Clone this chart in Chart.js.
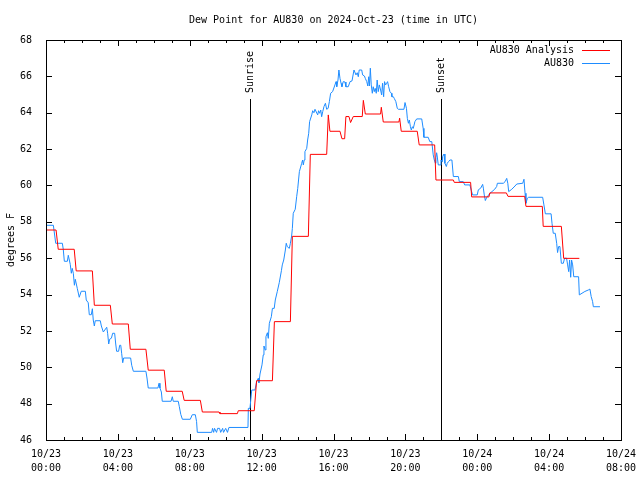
<!DOCTYPE html>
<html>
<head>
<meta charset="utf-8">
<script src="https://cdn.jsdelivr.net/npm/chart.js@4/dist/chart.umd.min.js"></script>
<style>
  html, body { margin: 0; padding: 0; background: #fff; }
  canvas { display: block; }
</style>
</head>
<body>
<canvas id="dewpt-chart" width="640" height="480"></canvas>
<script>
// hours since 10/23 00:00 UTC
const analysisHours = [0, 0.56, 0.68, 1.57, 1.68, 2.58, 2.69, 3.58, 3.69, 4.58, 4.69, 5.56, 5.69, 6.58, 6.69, 7.58,
  7.69, 8.59, 8.7, 9.63, 9.68, 10.65, 10.7, 11.59, 11.72, 12.6, 12.71, 13.6, 13.71, 14.6, 14.71, 15.62, 15.71, 15.8,
  16.36, 16.47, 16.62, 16.69, 16.86, 16.95, 17.1, 17.6, 17.66, 17.77, 18.62, 18.66, 18.77, 19.64, 19.68, 19.77,
  20.66, 20.77, 21.63, 21.7, 22.67, 22.72, 23.63, 23.69, 24.65, 24.7, 25.62, 25.71, 26.64, 26.71, 27.62, 27.67,
  28.68, 28.81, 29.68];
const analysisDewpt = [57.55, 57.55, 56.49, 56.49, 55.3, 55.3, 53.41, 53.41, 52.38, 52.38, 50.99, 50.99, 49.84, 49.84, 48.68, 48.68,
  48.18, 48.18, 47.54, 47.54, 47.45, 47.45, 47.61, 47.61, 49.26, 49.26, 52.51, 52.51, 57.2, 57.2, 61.71, 61.71, 63.88, 62.98,
  62.98, 62.57, 62.57, 63.79, 63.79, 63.46, 63.79, 63.79, 64.68, 63.93, 63.93, 64.3, 63.49, 63.49, 63.7, 62.98,
  62.98, 62.23, 62.23, 60.3, 60.3, 60.17, 60.17, 59.37, 59.37, 59.59, 59.59, 59.4, 59.4, 58.85, 58.85, 57.75,
  57.75, 55.99, 55.99];

const obsHours = [0, 0.41, 0.54, 0.91, 0.96, 1.02, 1.19, 1.24, 1.35, 1.41, 1.46, 1.52, 1.58, 1.63, 1.74, 1.85, 1.96,
  2.19, 2.24, 2.35, 2.41, 2.52, 2.58, 2.63, 2.69, 2.74, 3.02, 3.08, 3.19, 3.38, 3.43, 3.49, 3.54, 3.64, 3.71, 3.82,
  3.88, 3.93, 4.04, 4.1, 4.16, 4.21, 4.27, 4.32, 4.71, 4.77, 4.86, 5.56, 5.62, 5.69, 6.23, 6.29, 6.34, 6.42, 6.47,
  6.96, 7.03, 7.08, 7.36, 7.42, 7.5, 7.59, 8.03, 8.14, 8.31, 8.38, 8.42, 9.22, 9.27, 9.33, 9.38, 9.49, 9.55, 9.66,
  9.72, 9.83, 9.88, 10.0, 10.1, 10.18, 11.24, 11.26, 11.35, 11.45, 11.63, 11.72, 11.81, 11.85, 11.91, 12.02, 12.09,
  12.13, 12.2, 12.24, 12.32, 12.37, 12.43, 12.54, 12.6, 12.7, 12.76, 12.87, 12.98, 13.1, 13.15, 13.23, 13.32, 13.37,
  13.43, 13.54, 13.6, 13.67, 13.71, 13.76, 13.87, 13.95, 14.01, 14.1, 14.23, 14.28, 14.32, 14.37, 14.41, 14.51,
  14.56, 14.62, 14.67, 14.79, 14.84, 14.91, 14.97, 15.12, 15.17, 15.23, 15.29, 15.34, 15.4, 15.47, 15.55, 15.62,
  15.7, 15.77, 15.84, 15.95, 16.08, 16.14, 16.18, 16.25, 16.3, 16.36, 16.42, 16.47, 16.54, 16.64, 16.69, 16.82,
  16.92, 17.03, 17.14, 17.25, 17.32, 17.38, 17.43, 17.57, 17.62, 17.72, 17.77, 17.85, 17.91, 17.96, 18.0, 18.05,
  18.1, 18.16, 18.21, 18.27, 18.32, 18.38, 18.43, 18.49, 18.55, 18.62, 18.68, 18.73, 18.79, 18.84, 18.9, 18.96,
  19.01, 19.07, 19.14, 19.22, 19.25, 19.33, 19.38, 19.47, 19.55, 19.61, 19.92, 19.98, 20.06, 20.11, 20.17, 20.22,
  20.28, 20.33, 20.39, 20.44, 20.53, 20.63, 20.91, 20.99, 21.03, 21.27, 21.36, 21.47, 21.55, 21.61, 21.67, 21.7,
  21.74, 21.77, 21.83, 21.93, 21.98, 22.04, 22.07, 22.15, 22.2, 22.28, 22.33, 22.4, 22.48, 22.59, 22.67, 22.95,
  23.0, 23.22, 23.3, 23.59, 23.67, 23.74, 24.0, 24.06, 24.19, 24.3, 24.34, 24.39, 24.45, 24.53, 24.71, 24.97, 25.08,
  25.12, 25.45, 25.55, 25.64, 25.7, 25.75, 25.92, 26.1, 26.2, 26.53, 26.6, 26.66, 26.71, 26.79, 26.86, 27.64, 27.71,
  27.79, 28.11, 28.16, 28.23, 28.34, 28.42, 28.47, 28.53, 28.6, 28.68, 28.79, 28.86, 28.97, 29.03, 29.09, 29.14,
  29.2, 29.25, 29.31, 29.37, 29.64, 29.68, 29.99, 30.18, 30.27, 30.34, 30.42, 30.46, 30.83];
const obsDewpt = [57.81, 57.81, 56.82, 56.82, 56.49, 55.83, 55.83, 56.16, 55.66, 55.17, 55.44, 55.17, 54.51, 54.84, 54.34, 53.85, 54.18,
  54.18, 53.7, 53.55, 52.89, 52.89, 53.22, 52.6, 52.27, 52.56, 52.56, 52.27, 51.94, 52.2, 51.87, 51.28, 51.54, 51.6, 51.87, 51.87,
  51.28, 50.88, 50.88, 51.21, 51.21, 50.77, 50.25, 50.51, 50.51, 50.11, 49.78, 49.78, 49.41, 48.86, 48.86, 49.12, 48.86, 48.64, 48.13,
  48.13, 48.38, 48.13, 48.13, 47.83, 47.41, 47.14, 47.14, 47.39, 47.39, 47.01, 46.42, 46.42, 46.64, 46.42, 46.64, 46.42, 46.64, 46.64,
  46.42, 46.64, 46.42, 46.64, 46.42, 46.69, 46.69, 47.74, 47.74, 48.75, 48.75, 49.21, 49.39, 49.15, 49.63, 50.13, 50.68,
  51.17, 50.95, 51.68, 51.9, 51.59, 52.42, 52.78, 53.24, 53.24, 53.7, 54.16, 54.65, 55.31, 55.63, 55.9, 56.45, 56.82,
  56.63, 56.54, 56.82, 57.22, 57.64, 58.47, 58.69, 59.38, 59.84, 60.76, 61.22, 61.4, 61.13, 61.4, 61.86, 62.04,
  62.5, 62.87, 63.51, 63.88, 64.11, 64.0, 64.19, 63.88, 64.11, 63.97, 64.15, 63.78, 64.06, 64.34, 64.52, 64.19,
  64.24, 64.61, 65.07, 65.16, 65.53, 65.71, 65.43, 65.8, 66.35, 65.89, 65.62, 65.43, 65.71, 65.69, 65.43, 65.43,
  65.71, 65.75, 66.35, 66.08, 66.2, 65.98, 66.35, 66.35, 66.08, 66.02, 65.89, 65.71, 65.47, 65.98, 65.47, 66.45,
  65.53, 65.07, 65.43, 65.16, 65.34, 65.07, 65.8, 65.16, 65.53, 65.25, 64.98, 65.62, 64.88, 65.71, 65.53, 65.62,
  65.71, 65.43, 65.16, 65.07, 64.88, 64.88, 64.79, 64.61, 64.24, 64.19, 64.19, 64.56, 64.24, 63.69, 63.42, 63.6,
  63.23, 63.05, 63.23, 63.14, 63.51, 63.66, 63.66, 63.14, 62.65, 62.65, 62.41, 62.41, 61.68, 61.4, 61.22, 61.53,
  61.8, 61.62, 61.13, 61.13, 61.4, 61.31, 61.59, 61.73, 61.22, 61.04, 61.22, 61.31, 61.4, 61.4, 60.49, 60.49,
  60.21, 60.21, 60.03, 60.03, 59.72, 59.48, 59.48, 59.76, 59.85, 60.06, 59.85, 59.48, 59.17, 59.35, 59.57, 59.79, 59.94,
  60.12, 60.12, 60.21, 60.39, 60.12, 59.66, 59.79, 59.97, 60.08, 60.12, 60.34, 59.57, 59.02, 59.3, 59.35, 59.35, 58.93,
  58.44, 58.44, 57.92, 57.37, 57.37, 56.82, 56.31, 56.64, 56.64, 55.72, 55.72, 56.0, 56.0, 55.63, 55.26, 55.9,
  54.95, 55.9, 55.63, 54.98, 54.98, 53.98, 54.17, 54.25, 54.3, 53.89, 53.61, 53.33, 53.33];

const seriesNames = ['AU830 Analysis', 'AU830'];
const seriesColors = ['#ff0000', '#1e8cff'];
const sunEvents = ['Sunrise', 'Sunset'];
const sunHours = [11.35, 21.98];
const startDay = 23;

const monoFont = 'DejaVu Sans Mono';

function toPoints(xs, ys) {
    return xs.map((x, i) => ({ x: x, y: ys[i] }));
}

function pad2(n) {
    return (n < 10 ? '0' : '') + n;
}

// frame, inward ticks, title, legend, sun lines
const gnuplotLook = {
    id: 'gnuplotLook',
    beforeDatasetsDraw(chart) {
        const ctx = chart.ctx;
        const area = chart.chartArea;
        const xs = chart.scales.x;
        ctx.save();
        ctx.strokeStyle = '#000';
        ctx.lineWidth = 1;
        ctx.fillStyle = '#000';
        ctx.font = '10px "' + monoFont + '"';
        sunEvents.forEach((name, i) => {
            const px = Math.round(xs.getPixelForValue(sunHours[i])) + 0.5;
            ctx.beginPath();
            ctx.moveTo(px, 99);
            ctx.lineTo(px, area.bottom);
            ctx.stroke();
            ctx.save();
            ctx.translate(px, 93);
            ctx.rotate(-Math.PI / 2);
            ctx.textAlign = 'left';
            ctx.textBaseline = 'middle';
            ctx.fillText(name, 0, 0);
            ctx.restore();
        });
        ctx.restore();
    },
    afterDraw(chart) {
        const ctx = chart.ctx;
        const area = chart.chartArea;
        const xs = chart.scales.x;
        const ys = chart.scales.y;
        ctx.save();
        ctx.strokeStyle = '#000';
        ctx.lineWidth = 1;
        ctx.strokeRect(Math.round(area.left) + 0.5, Math.round(area.top) + 0.5,
            Math.round(area.right - area.left), Math.round(area.bottom - area.top));

        ctx.beginPath();
        for (let h = xs.min; h <= xs.max; h++) {
            const px = Math.round(xs.getPixelForValue(h)) + 0.5;
            const len = h % 4 === 0 ? 6 : 3;
            ctx.moveTo(px, area.bottom);
            ctx.lineTo(px, area.bottom - len);
            ctx.moveTo(px, area.top);
            ctx.lineTo(px, area.top + len);
        }
        for (let v = ys.min; v <= ys.max; v += 2) {
            const py = Math.round(ys.getPixelForValue(v)) + 0.5;
            ctx.moveTo(area.left, py);
            ctx.lineTo(area.left + 6, py);
            ctx.moveTo(area.right, py);
            ctx.lineTo(area.right - 6, py);
        }
        ctx.stroke();

        ctx.fillStyle = '#000';
        ctx.font = '10px "' + monoFont + '"';
        ctx.textBaseline = 'middle';
        ctx.textAlign = 'center';
        ctx.fillText('Dew Point for AU830 on 2024-Oct-23 (time in UTC)', (area.left + area.right) / 2, 20);

        ctx.save();
        ctx.translate(11, (area.top + area.bottom) / 2);
        ctx.rotate(-Math.PI / 2);
        ctx.fillText('degrees F', 0, 0);
        ctx.restore();

        // key
        ctx.textAlign = 'right';
        seriesNames.forEach((name, i) => {
            const y = 50 + i * 13;
            ctx.fillStyle = '#000';
            ctx.fillText(name, 574, y);
            ctx.strokeStyle = seriesColors[i];
            ctx.beginPath();
            ctx.moveTo(582, y + 0.5);
            ctx.lineTo(610, y + 0.5);
            ctx.stroke();
        });
        ctx.restore();
    }
};

const ctx = document.getElementById('dewpt-chart').getContext('2d');
const dewChart = new Chart(ctx, {
    type: 'line',
    data: {
        datasets: [{
            label: seriesNames[0],
            data: toPoints(analysisHours, analysisDewpt),
            borderColor: seriesColors[0],
            borderWidth: 1,
            pointRadius: 0,
            tension: 0,
            fill: false
        }, {
            label: seriesNames[1],
            data: toPoints(obsHours, obsDewpt),
            borderColor: seriesColors[1],
            borderWidth: 1,
            pointRadius: 0,
            tension: 0,
            fill: false
        }]
    },
    options: {
        responsive: false,
        animation: false,
        devicePixelRatio: 1,
        layout: { padding: { top: 40, right: 19, left: 0, bottom: 0 } },
        plugins: {
            legend: { display: false },
            title: { display: false },
            tooltip: { enabled: false }
        },
        scales: {
            x: {
                type: 'linear',
                min: 0,
                max: 32,
                grid: { display: false },
                border: { display: false },
                afterFit: s => { s.height = 40; },
                ticks: {
                    stepSize: 4,
                    autoSkip: false,
                    maxRotation: 0,
                    padding: -1,
                    color: '#000',
                    font: { family: monoFont, size: 10, lineHeight: 1.4 },
                    callback: v => {
                        const day = startDay + Math.floor(v / 24);
                        return ['10/' + day, pad2(v % 24) + ':00'];
                    }
                }
            },
            y: {
                min: 46,
                max: 68,
                grid: { display: false },
                border: { display: false },
                afterFit: s => { s.width = 46; },
                ticks: {
                    stepSize: 2,
                    padding: 6,
                    color: '#000',
                    font: { family: monoFont, size: 10 }
                }
            }
        }
    },
    plugins: [gnuplotLook]
});
</script>
</body>
</html>
